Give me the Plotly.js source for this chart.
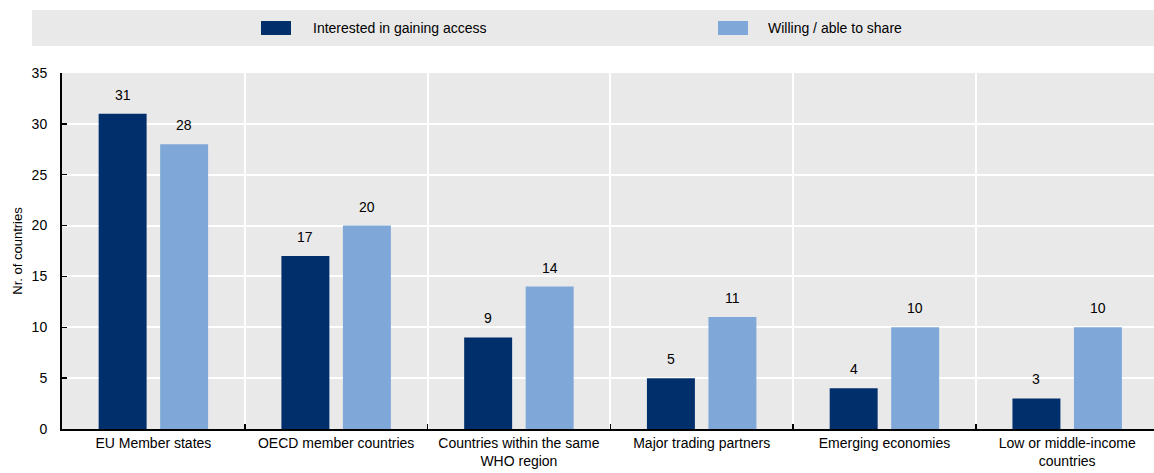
<!DOCTYPE html>
<html>
<head>
<meta charset="utf-8">
<script src="https://cdn.plot.ly/plotly-3.0.1.min.js"></script>
<style>
  html, body { margin: 0; padding: 0; background: #fff; }
  #chart { width: 1154px; height: 473px; }
</style>
</head>
<body>
<div id="chart"></div>
<script>
// Partners for data sharing: interest in access vs. willingness to share
const categories = [
  'EU Member states',
  'OECD member countries',
  'Countries within the same<br>WHO region',
  'Major trading partners',
  'Emerging economies',
  'Low or middle-income<br>countries'
];
const seriesNames = ['Interested in gaining access', 'Willing / able to share'];
const interested = [31, 17, 9, 5, 4, 3];
const willing = [28, 20, 14, 11, 10, 10];
const yTicks = [0, 5, 10, 15, 20, 25, 30, 35];

const DARK = '#002F6C';
const LIGHT = '#7FA8D9';
const PANEL = '#E9E9E9';
const FONT = '"Liberation Sans Narrow", "Arial Narrow", "Liberation Sans", Arial, sans-serif';

const W = 1154, H = 473;
const M = { l: 62, r: 0, t: 73, b: 44 };
const plotW = W - M.l - M.r;
const plotH = H - M.t - M.b;
const xRange = [-0.5, 5.475];
const bargap = 0.327;
const pxPerCat = plotW / (xRange[1] - xRange[0]);
const slot = pxPerCat * (1 - bargap) / 2;

// pixel -> paper helpers for the legend band
const px = x => (x - M.l) / plotW;
const py = y => (H - M.b - y) / plotH;

const traces = [
  { type: 'bar', name: seriesNames[0], x: categories, y: interested,
    marker: { color: DARK, line: { width: 0 } }, showlegend: false, hoverinfo: 'x+y' },
  { type: 'bar', name: seriesNames[1], x: categories, y: willing,
    marker: { color: LIGHT, line: { width: 0 } }, showlegend: false, hoverinfo: 'x+y' }
];

const annotations = [];
[interested, willing].forEach((vals, s) => {
  vals.forEach((v, i) => {
    annotations.push({
      x: categories[i], y: v, xref: 'x', yref: 'y',
      text: String(v), showarrow: false,
      xanchor: 'center', yanchor: 'middle',
      xshift: (s === 0 ? -1 : 1) * slot / 2, yshift: 19,
      font: { family: FONT, size: 14, color: '#000' }
    });
  });
});

// legend band
const legendItems = [
  { name: seriesNames[0], color: DARK, x0: 261, x1: 291, tx: 311 },
  { name: seriesNames[1], color: LIGHT, x0: 718, x1: 748, tx: 766 }
];
const shapes = [
  { type: 'rect', xref: 'paper', yref: 'paper', x0: px(32), x1: px(1154), y0: py(46), y1: py(10),
    fillcolor: PANEL, line: { width: 0 }, layer: 'below' }
];
legendItems.forEach(it => {
  shapes.push({ type: 'rect', xref: 'paper', yref: 'paper', x0: px(it.x0), x1: px(it.x1),
    y0: py(35), y1: py(21), fillcolor: it.color, line: { width: 0 } });
  annotations.push({ xref: 'paper', yref: 'paper', x: px(it.tx), y: py(28),
    xanchor: 'left', yanchor: 'middle', showarrow: false, text: it.name,
    font: { family: FONT, size: 14, color: '#000' } });
});

const layout = {
  width: W, height: H,
  margin: M,
  paper_bgcolor: '#fff',
  plot_bgcolor: PANEL,
  font: { family: FONT, size: 14, color: '#000' },
  barmode: 'group',
  bargap: bargap,
  bargroupgap: 0.22,
  showlegend: false,
  xaxis: {
    type: 'category',
    range: xRange,
    tickson: 'boundaries',
    ticks: 'inside', ticklen: 5, tickwidth: 1.5, tickcolor: '#000',
    showgrid: true, gridcolor: '#fff', gridwidth: 2,
    showline: true, linecolor: '#000', linewidth: 2,
    tickfont: { family: FONT, size: 14, color: '#000' },
    fixedrange: true
  },
  yaxis: {
    range: [0, 35],
    tickvals: yTicks,
    ticks: 'inside', ticklen: 5, tickwidth: 1.5, tickcolor: '#000',
    showgrid: true, gridcolor: '#fff', gridwidth: 2,
    zeroline: false,
    showline: true, linecolor: '#000', linewidth: 2,
    ticklabelstandoff: 10,
    tickfont: { family: FONT, size: 14, color: '#000' },
    title: { text: 'Nr. of countries', standoff: 6, font: { family: FONT, size: 13, color: '#000' } },
    fixedrange: true
  },
  shapes: shapes,
  annotations: annotations
};

Plotly.newPlot('chart', traces, layout, { displayModeBar: false, staticPlot: true });
</script>
</body>
</html>
